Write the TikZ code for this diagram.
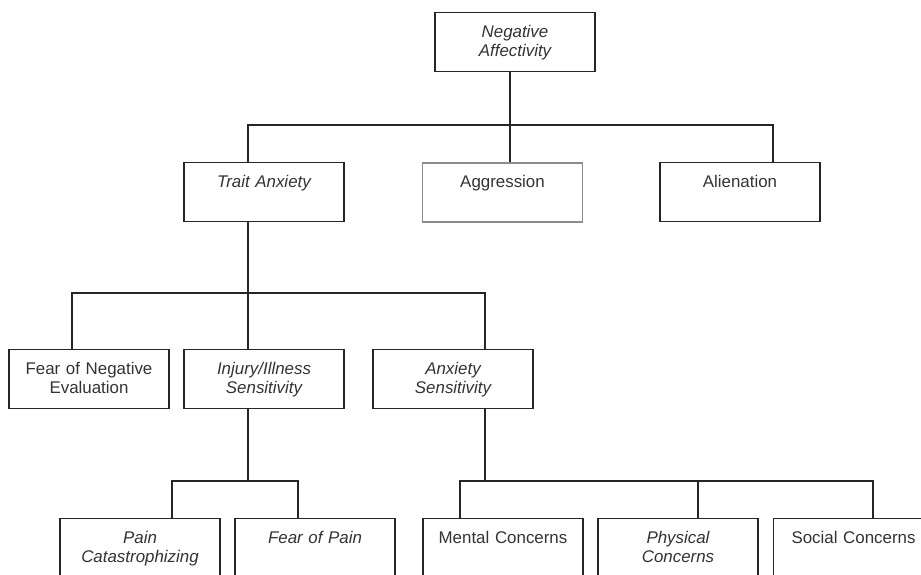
\documentclass[tikz,border=0pt]{standalone}
\usepackage{fontspec}
\setmainfont{Liberation Sans}
\usepackage{tikz}

\definecolor{linegray}{HTML}{262626}
\definecolor{textgray}{HTML}{333333}
\definecolor{paleedge}{HTML}{8C8C8C}

\tikzset{
  box/.style={draw=linegray, line width=1.4pt, anchor=north, inner sep=0pt,
    minimum width=160pt, text width=152pt, align=center,
    text height=25pt, text depth=34pt, text=textgray,
    font=\fontsize{16.9}{19}\selectfont},
  itbox/.style={box, font=\fontsize{16.9}{19}\selectfont\itshape},
  palebox/.style={box, draw=paleedge, line width=1.9pt},
  link/.style={draw=linegray, line width=1.4pt}
}

\begin{document}
\begin{tikzpicture}[x=1pt, y=-1pt]
    \clip (0,0) rectangle (921,574);

    % levels
    \node[itbox] (na) at (515, 12) {Negative\\Affectivity};

    \node[itbox] (ta) at (264, 162) {Trait Anxiety};
    \node[palebox] (ag) at (502.5, 162) {Aggression};
    \node[box] (al) at (740, 162) {Alienation};

    \node[box] (fne) at (89, 349) {Fear of Negative\\Evaluation};
    \node[itbox] (ii) at (264, 349) {Injury/Illness\\Sensitivity};
    \node[itbox] (as) at (453, 349) {Anxiety\\Sensitivity};

    \node[itbox] (pc) at (140, 518) {Pain\\Catastrophizing};
    \node[itbox] (fp) at (315, 518) {Fear of Pain};
    \node[box] (mc) at (503, 518) {Mental Concerns};
    \node[itbox] (pcn) at (678, 518) {Physical\\Concerns};
    \node[box] (sc) at (853.5, 518) {Social Concerns};

    % bus heights
    \coordinate (r1) at (0, 125);
    \coordinate (r2) at (0, 293);
    \coordinate (r3) at (0, 481);

    % negative affectivity
    \draw[link] ([xshift=-5pt]na.south) -- ([xshift=-5pt]na.south |- r1);
    \draw[link] ([xshift=-16pt]ta.north) -- ([xshift=-16pt]ta.north |- r1)
        -- ([xshift=33pt]al.north |- r1) -- ([xshift=33pt]al.north);
    \draw[link] ([xshift=7.5pt]ag.north) -- ([xshift=7.5pt]ag.north |- r1);

    % trait anxiety
    \draw[link] ([xshift=-16pt]ta.south) -- ([xshift=-16pt]ta.south |- r2);
    \draw[link] ([xshift=-17pt]fne.north) -- ([xshift=-17pt]fne.north |- r2)
        -- ([xshift=32pt]as.north |- r2) -- ([xshift=32pt]as.north);
    \draw[link] ([xshift=-16pt]ii.north) -- ([xshift=-16pt]ii.north |- r2);

    % injury/illness sensitivity
    \draw[link] ([xshift=-16pt]ii.south) -- ([xshift=-16pt]ii.south |- r3);
    \draw[link] ([xshift=32pt]pc.north) -- ([xshift=32pt]pc.north |- r3)
        -- ([xshift=-17pt]fp.north |- r3) -- ([xshift=-17pt]fp.north);

    % anxiety sensitivity
    \draw[link] ([xshift=32pt]as.south) -- ([xshift=32pt]as.south |- r3);
    \draw[link] ([xshift=-43pt]mc.north) -- ([xshift=-43pt]mc.north |- r3)
        -- ([xshift=19.5pt]sc.north |- r3) -- ([xshift=19.5pt]sc.north);
    \draw[link] ([xshift=20pt]pcn.north) -- ([xshift=20pt]pcn.north |- r3);
\end{tikzpicture}
\end{document}
